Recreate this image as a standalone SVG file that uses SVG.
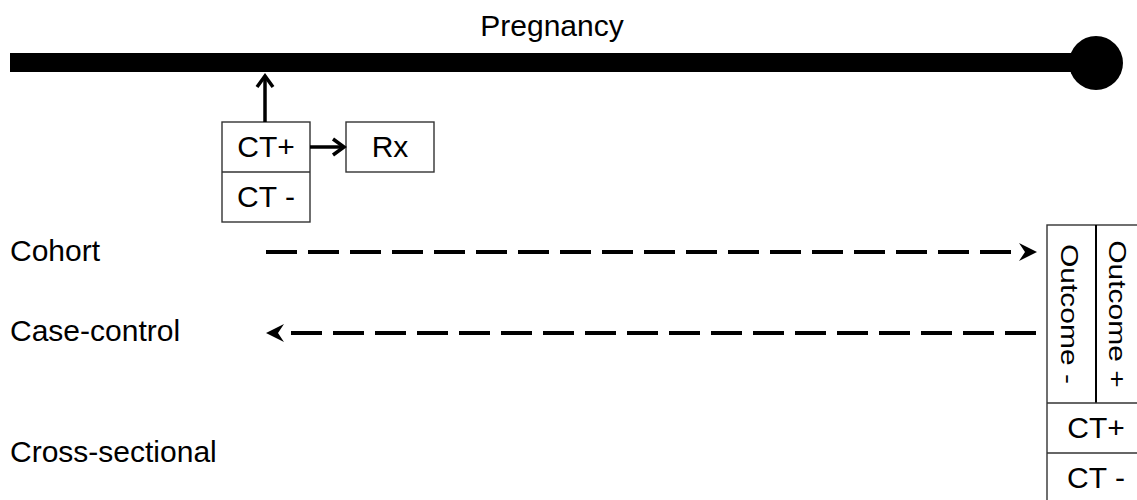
<svg xmlns="http://www.w3.org/2000/svg" width="1137" height="500" viewBox="0 0 1137 500">
<style>
  text { font-family: "Liberation Sans", Arial, sans-serif; font-size: 30px; fill: #000; }
  .mid { text-anchor: middle; }
  .box { fill: #fff; stroke: #333; stroke-width: 1.4; }
  .sep { stroke: #333; stroke-width: 1.4; fill: none; }
  .solid { stroke: #000; stroke-width: 3.5; fill: none; }
  .dash { stroke: #000; stroke-width: 4; fill: none; stroke-dasharray: 31 11; }
</style>
<defs>
  <marker id="vhead" markerUnits="userSpaceOnUse" markerWidth="20" markerHeight="20" refX="0" refY="0" orient="auto" overflow="visible">
    <path d="M-11,-8 L0,0 L-11,8" fill="none" stroke="#000" stroke-width="3.5" stroke-linejoin="miter"/>
  </marker>
  <marker id="chev" markerUnits="userSpaceOnUse" markerWidth="30" markerHeight="20" refX="0" refY="0" orient="auto" overflow="visible">
    <path d="M20,0 L2,-9 L8,0 L2,9 Z" fill="#000"/>
  </marker>
</defs>

<g id="timeline">
  <rect x="10" y="53" width="1086" height="19" fill="#000"/>
  <circle cx="1096" cy="63" r="27" fill="#000"/>
  <text x="552" y="36" class="mid">Pregnancy</text>
</g>

<g id="ct-box">
  <rect class="box" x="222" y="122" width="88" height="100"/>
  <line class="sep" x1="222" y1="172" x2="310" y2="172"/>
  <text x="266" y="157" class="mid">CT+</text>
  <text x="266" y="207" class="mid">CT -</text>
</g>

<g id="rx-box">
  <rect class="box" x="346" y="122" width="88" height="50"/>
  <text x="390" y="157" class="mid">Rx</text>
</g>

<g id="labels">
  <text x="10" y="261">Cohort</text>
  <text x="10" y="341">Case-control</text>
  <text x="10" y="462">Cross-sectional</text>
</g>

<g id="outcome-box">
  <rect class="box" x="1047" y="225" width="100" height="290"/>
  <line x1="1096" y1="225" x2="1096" y2="403" stroke="#000" stroke-width="2"/>
  <line class="sep" x1="1047" y1="403" x2="1147" y2="403"/>
  <line class="sep" x1="1047" y1="453" x2="1147" y2="453"/>
  <text class="mid" transform="translate(1061,314) scale(0.77,1) rotate(90)">Outcome -</text>
  <text class="mid" transform="translate(1108.5,314) scale(0.77,1) rotate(90)">Outcome +</text>
  <text x="1096" y="438" class="mid">CT+</text>
  <text x="1096" y="488" class="mid">CT -</text>
</g>

<g id="connectors">
  <line class="solid" x1="265" y1="122" x2="265" y2="76" marker-end="url(#vhead)"/>
  <line class="solid" x1="310" y1="147" x2="344" y2="147" marker-end="url(#vhead)"/>
  <line class="dash" x1="266" y1="252" x2="1017" y2="252" marker-end="url(#chev)"/>
  <line class="dash" x1="1036" y1="333" x2="286" y2="333" marker-end="url(#chev)"/>
</g>
</svg>
